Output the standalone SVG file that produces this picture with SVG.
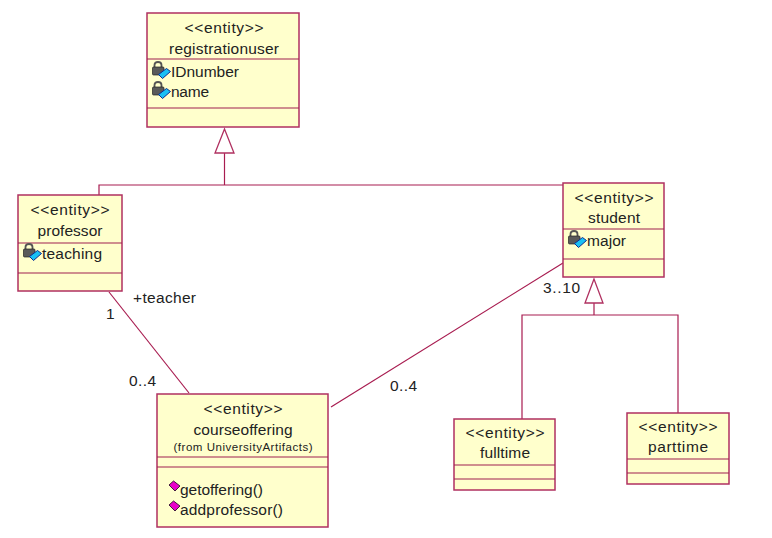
<svg xmlns="http://www.w3.org/2000/svg" width="772" height="538" viewBox="0 0 772 538">
<style>
.box{fill:#ffffcc;stroke:#b03060;stroke-width:1.5}
.sep{stroke:#a02050;stroke-width:1.2;fill:none}
.con{stroke:#a81c50;stroke-width:1.2;fill:none}
.tri{fill:#fff;stroke:#b03060;stroke-width:1.3}
text{font-family:"Liberation Sans",Arial,sans-serif;font-size:15.500px;fill:#222}
.c{text-anchor:middle}
.s{font-size:11.500px}
.lockb{fill:#5a5a5a;stroke:#222;stroke-width:.7}
.locks{fill:none;stroke:#555;stroke-width:1.8}
.keyd{fill:#18c0f4;stroke:#102c90;stroke-width:1}
.op{fill:#e800c8;stroke:#301030;stroke-width:.9}
</style>
<defs>
<g id="attr">
<path class="locks" d="M2.500 6V3Q2.500 0 6 0Q9.500 0 9.500 3V6"/>
<rect class="lockb" x="0.500" y="5" width="11.500" height="8" rx="1"/>
<path class="keyd" d="M6.500 12.500L14.500 6.500L18.500 9.500L10.500 16.500Z"/>
</g>
<path id="oper" class="op" d="M0 4L4.500 0L11 5L6 10Z"/>
</defs>
<g id="connectors">
<path class="con" d="M99 195V185H563"/>
<path class="con" d="M224.500 153V185"/>
<path class="tri" d="M224.500 129L215 153H234Z"/>
<path class="con" d="M594 303V315"/>
<path class="tri" d="M594 279L585 303H603Z"/>
<path class="con" d="M522 419V315H678V413"/>
<path class="con" d="M109 292L189 393"/>
<path class="con" d="M563 263L331 407"/>
</g>
<g id="registrationuser">
<rect class="box" x="147" y="13" width="152" height="114"/>
<path class="sep" d="M147 59H299M147 108H299"/>
<text class="c" x="224" y="33" textLength="79">&lt;&lt;entity&gt;&gt;</text>
<text class="c" x="224" y="54" textLength="110">registrationuser</text>
<use href="#attr" x="152" y="62"/>
<text x="171" y="77" textLength="68">IDnumber</text>
<use href="#attr" x="152" y="82"/>
<text x="171" y="97" textLength="38">name</text>
</g>
<g id="professor">
<rect class="box" x="18" y="195" width="104" height="96"/>
<path class="sep" d="M18 243H122M18 273H122"/>
<text class="c" x="70" y="215" textLength="79">&lt;&lt;entity&gt;&gt;</text>
<text class="c" x="70" y="236" textLength="65">professor</text>
<use href="#attr" x="23" y="244"/>
<text x="42" y="259" textLength="60">teaching</text>
</g>
<g id="student">
<rect class="box" x="563" y="183" width="101" height="94"/>
<path class="sep" d="M563 229H664M563 259H664"/>
<text class="c" x="614" y="203" textLength="79">&lt;&lt;entity&gt;&gt;</text>
<text class="c" x="614" y="223" textLength="52">student</text>
<use href="#attr" x="568" y="231"/>
<text x="587" y="246" textLength="39">major</text>
</g>
<g id="courseoffering">
<rect class="box" x="157" y="394" width="171" height="133"/>
<path class="sep" d="M157 457H328M157 467H328"/>
<text class="c" x="243" y="414" textLength="79">&lt;&lt;entity&gt;&gt;</text>
<text class="c" x="243" y="435" textLength="99">courseoffering</text>
<text class="c s" x="243" y="451" textLength="139">(from UniversityArtifacts)</text>
<use href="#oper" x="169" y="481"/>
<text x="180" y="495" textLength="83">getoffering()</text>
<use href="#oper" x="169" y="501"/>
<text x="180" y="515" textLength="103">addprofessor()</text>
</g>
<g id="fulltime">
<rect class="box" x="454" y="419" width="101" height="71"/>
<path class="sep" d="M454 465H555M454 479H555"/>
<text class="c" x="505" y="438" textLength="79">&lt;&lt;entity&gt;&gt;</text>
<text class="c" x="505" y="458" textLength="50">fulltime</text>
</g>
<g id="parttime">
<rect class="box" x="627" y="413" width="102" height="71"/>
<path class="sep" d="M627 459H729M627 473H729"/>
<text class="c" x="678" y="432" textLength="79">&lt;&lt;entity&gt;&gt;</text>
<text class="c" x="678" y="452" textLength="60">parttime</text>
</g>
<g id="labels">
<text x="133" y="303" textLength="63">+teacher</text>
<text x="106" y="319">1</text>
<text x="129" y="386" textLength="27">0..4</text>
<text x="390" y="391" textLength="27">0..4</text>
<text x="543" y="293" textLength="37">3..10</text>
</g>
</svg>
